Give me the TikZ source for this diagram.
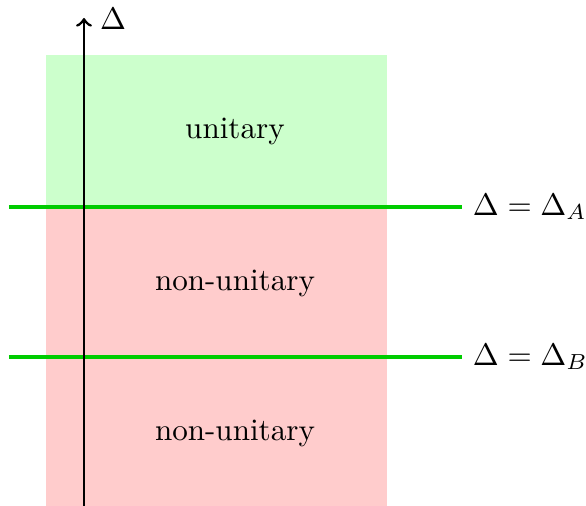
\documentclass[tikz,border=0pt]{standalone}
\begin{document}
\begin{tikzpicture}[x=0.3215pt,y=-0.3215pt,
  level/.style={line width=1pt,draw={rgb,255:red,0;green,204;blue,0}},
  axisline/.style={line width=0.9pt,->}]
\useasboundingbox (0,0) rectangle (586,506);
\fill[green!20] (46,55) rectangle (387,207);
\fill[red!20] (46,207) rectangle (387,506);
\node (u) at (235,131) {unitary};
\node (n1) at (235,283) {non-unitary};
\node (n2) at (235,433) {non-unitary};
\coordinate (lA) at (9,207);
\coordinate (rA) at (462,207);
\coordinate (lB) at (9,357);
\coordinate (rB) at (462,357);
\draw[level] (lA) -- (rA);
\draw[level] (lB) -- (rB);
\node[anchor=west] (labA) at (rA) {$\Delta=\Delta_A$};
\node[anchor=west] (labB) at (rB) {$\Delta=\Delta_B$};
\coordinate (ab) at (84,506);
\coordinate (at) at (84,18);
\draw[axisline] (ab) -- (at);
\node[anchor=west,inner sep=4pt] (dl) at ([shift={(3,1)}]at) {$\Delta$};
\end{tikzpicture}
\end{document}
